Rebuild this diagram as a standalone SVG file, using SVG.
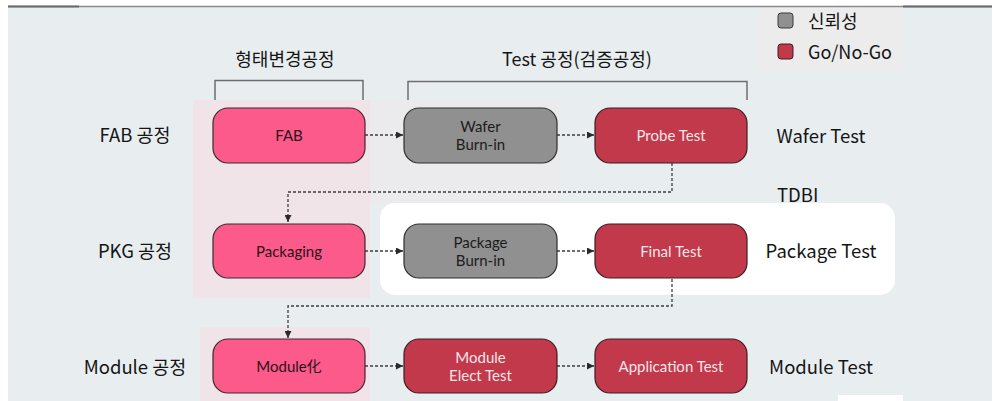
<svg xmlns="http://www.w3.org/2000/svg" width="999" height="401" viewBox="0 0 999 401">
<defs>
<style>
text{font-family:"Noto Sans CJK KR","Noto Sans",sans-serif;}
.lbl{font-size:18.5px;fill:#151515;}
.hdr{font-size:18px;fill:#151515;}
.nt{font-family:Lato,"Noto Sans CJK KR",sans-serif;font-size:15px;text-anchor:middle;}
.pink rect{fill:#fb5a8b;stroke:#3b2a2e;stroke-width:1.2;}
.gray rect{fill:#909090;stroke:#2e2e2e;stroke-width:1.2;}
.red rect{fill:#c1394a;stroke:#3a1e22;stroke-width:1.2;}
.pink text{fill:#2a1218;}
.gray text{fill:#1c1c1c;}
.red text{fill:#f6e6e8;}
.con{fill:none;stroke:#3c3c3c;stroke-width:1.3;stroke-dasharray:3 2;}
.br{fill:none;stroke:#6e6e6e;stroke-width:1.5;}
</style>
<marker id="ah" viewBox="0 0 8 8" refX="8" refY="4" markerWidth="7" markerHeight="7" markerUnits="userSpaceOnUse" orient="auto">
<path d="M0,0 L8,4 L0,8 z" fill="#2a2a2a"/>
</marker>
</defs>
<rect x="0" y="0" width="999" height="401" fill="#ffffff"/>
<rect x="8" y="7" width="984" height="394" fill="#e8eef0"/>
<line x1="8" y1="6.5" x2="992" y2="6.5" stroke="#8a8a8a" stroke-width="1.5"/>
<line x1="8" y1="6.5" x2="79" y2="6.5" stroke="#6a6a6a" stroke-width="2"/>
<line x1="903" y1="6.5" x2="992" y2="6.5" stroke="#6a6a6a" stroke-width="2"/>
<rect x="757" y="8" width="146" height="62" fill="#ececed"/>
<rect x="193" y="100" width="177" height="198" fill="#f0e4e9"/>
<rect x="370" y="100" width="190" height="103" fill="#ebebed"/>
<rect x="200" y="327" width="170" height="74" fill="#f0e4e9"/>
<rect x="380" y="203" width="515" height="92" rx="15" fill="#ffffff"/>
<rect x="838" y="395" width="65" height="6" fill="#ffffff"/>

<g id="legend">
<rect x="778" y="13" width="15" height="15" rx="3" fill="#909090" stroke="#3a3a3a" stroke-width="1"/>
<text x="808" y="28" class="hdr" font-size="17">신뢰성</text>
<rect x="778" y="44" width="15" height="15" rx="3" fill="#c1394a" stroke="#3a1e22" stroke-width="1"/>
<text x="808" y="59" class="hdr" font-size="17">Go/No-Go</text>
</g>

<g id="headers">
<text x="285" y="66" class="hdr" text-anchor="middle">형태변경공정</text>
<path class="br" d="M215,100 V80.5 H363 V100"/>
<text x="577" y="66" class="hdr" text-anchor="middle">Test 공정(검증공정)</text>
<path class="br" d="M408,100 V81.5 H747 V100"/>
</g>

<g id="row-labels">
<text x="135" y="142" class="lbl" text-anchor="middle">FAB 공정</text>
<text x="135" y="258" class="lbl" text-anchor="middle">PKG 공정</text>
<text x="135" y="374" class="lbl" text-anchor="middle">Module 공정</text>
<text x="821" y="143" class="lbl" text-anchor="middle">Wafer Test</text>
<text x="777" y="202" class="lbl">TDBI</text>
<text x="821" y="258" class="lbl" text-anchor="middle">Package Test</text>
<text x="821" y="374" class="lbl" text-anchor="middle">Module Test</text>
</g>

<g id="connectors">
<line class="con" x1="365" y1="135" x2="403" y2="135" marker-end="url(#ah)"/>
<line class="con" x1="557" y1="135" x2="594" y2="135" marker-end="url(#ah)"/>
<path class="con" d="M672,163 V192 H288 V222" marker-end="url(#ah)"/>
<line class="con" x1="365" y1="251" x2="403" y2="251" marker-end="url(#ah)"/>
<line class="con" x1="557" y1="251" x2="594" y2="251" marker-end="url(#ah)"/>
<path class="con" d="M672,279 V306 H288 V338" marker-end="url(#ah)"/>
<line class="con" x1="365" y1="366" x2="403" y2="366" marker-end="url(#ah)"/>
<line class="con" x1="557" y1="366" x2="594" y2="366" marker-end="url(#ah)"/>
</g>

<g id="fab" class="pink">
<rect x="213" y="108" width="152" height="55" rx="15"/>
<text x="289" y="141" class="nt">FAB</text>
</g>
<g id="wafer-burn-in" class="gray">
<rect x="404" y="108" width="153" height="55" rx="15"/>
<text x="480.5" y="132" class="nt">Wafer</text>
<text x="480.5" y="150" class="nt">Burn-in</text>
</g>
<g id="probe-test" class="red">
<rect x="595" y="108" width="152" height="55" rx="15"/>
<text x="671" y="141" class="nt">Probe Test</text>
</g>
<g id="packaging" class="pink">
<rect x="213" y="224" width="152" height="54" rx="15"/>
<text x="289" y="257" class="nt">Packaging</text>
</g>
<g id="package-burn-in" class="gray">
<rect x="404" y="224" width="153" height="54" rx="15"/>
<text x="480.5" y="248" class="nt">Package</text>
<text x="480.5" y="266" class="nt">Burn-in</text>
</g>
<g id="final-test" class="red">
<rect x="595" y="224" width="152" height="54" rx="15"/>
<text x="671" y="257" class="nt">Final Test</text>
</g>
<g id="module" class="pink">
<rect x="213" y="339" width="152" height="54" rx="15"/>
<text x="289" y="372" class="nt">Module化</text>
</g>
<g id="module-elect-test" class="red">
<rect x="404" y="339" width="153" height="54" rx="15"/>
<text x="480.5" y="363" class="nt">Module</text>
<text x="480.5" y="381" class="nt">Elect Test</text>
</g>
<g id="application-test" class="red">
<rect x="595" y="339" width="152" height="54" rx="15"/>
<text x="671" y="372" class="nt">Application Test</text>
</g>
</svg>
